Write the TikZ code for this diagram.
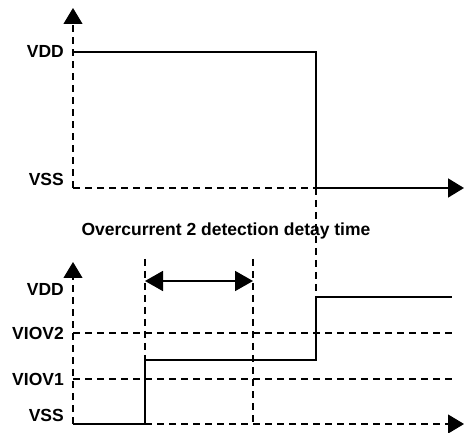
\documentclass[tikz,border=0pt]{standalone}
\usepackage{fontspec}
\setmainfont{Liberation Sans}
\usetikzlibrary{arrows.meta}
\begin{document}
\begin{tikzpicture}[x=1pt,y=-1pt,
  lbl/.style={font=\bfseries\fontsize{17.5}{17.5}\selectfont, inner sep=0pt, anchor=east},
  ttl/.style={font=\bfseries\fontsize{17.5}{17.5}\selectfont, inner sep=0pt},
  sig/.style={line width=1.8pt},
  dsh/.style={line width=1.1pt, dash pattern=on 7pt off 5pt},
  tip/.style={-{Triangle[width=19pt,length=16pt]}},
  dtip/.style={{Triangle[width=20pt,length=18pt]}-{Triangle[width=20pt,length=18pt]}}
]
\useasboundingbox (0,0) rectangle (464,433);
% ---------- top diagram ----------
\coordinate (o1) at (73,188);
\coordinate (y1) at (73,8);
\coordinate (h1) at (73,52);
\coordinate (f1) at (316,52);
\coordinate (f2) at (316,188);
\coordinate (x1) at (464,188);
\coordinate (r2) at (316,297);
\node[lbl] (vdd1) at (64,51) {VDD};
\node[lbl] (vss1) at (64,179) {VSS};
\draw[dsh,tip] (o1) -- (y1);
\draw[dsh] (o1) -- (f2);
\draw[dsh] (f2) -- (r2);
\draw[sig] (h1) -- (f1) -- (f2);
\draw[sig,tip] (f2) -- (x1);
% ---------- title ----------
\node[ttl] (title) at (226,231) {Overcurrent 2 detection detay time};
% ---------- bottom diagram ----------
\coordinate (o2) at (73,424);
\coordinate (y2) at (73,262);
\coordinate (x2) at (464,424);
\coordinate (a1) at (73,333);
\coordinate (a2) at (452,333);
\coordinate (b1) at (73,379);
\coordinate (b2) at (452,379);
\coordinate (s1) at (145,424);
\coordinate (s2) at (145,360);
\coordinate (s3) at (316,360);
\coordinate (s4) at (452,297);
\coordinate (t1) at (145,259);
\coordinate (t2) at (253,259);
\coordinate (t3) at (253,424);
\coordinate (d1) at (145,281);
\coordinate (d2) at (253,281);
\node[lbl] (vdd2) at (64,289) {VDD};
\node[lbl] (viov2) at (64,333) {VIOV2};
\node[lbl] (viov1) at (64,379) {VIOV1};
\node[lbl] (vss2) at (64,415) {VSS};
\draw[dsh,tip] (o2) -- (y2);
\draw[dsh,tip] (o2) -- (x2);
\draw[dsh] (a1) -- (a2);
\draw[dsh] (b1) -- (b2);
\draw[dsh] (t1) -- (s1);
\draw[dsh] (t2) -- (t3);
\draw[sig] (o2) -- (s1) -- (s2) -- (s3) -- (r2) -- (s4);
\draw[sig,dtip] (d1) -- (d2);
\end{tikzpicture}
\end{document}
